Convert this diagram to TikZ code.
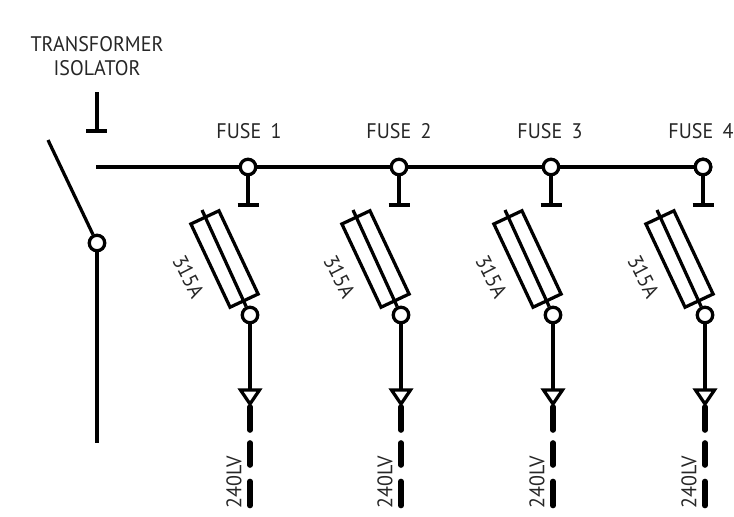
\documentclass[tikz,border=0pt]{standalone}
\usepackage{fontspec}
\setmainfont{PT Sans}[FakeStretch=0.95]
\usepackage{tikz}

\tikzset{
  wire/.style={line width=1.85pt},
  fat/.style={line width=3.2pt,line cap=round},
  joint/.style={circle,draw,line width=1.85pt,fill=white,inner sep=0pt,minimum size=0.31cm},
  fusebody/.style={draw,line width=1.85pt,inner sep=0pt,minimum width=1.84cm,minimum height=0.62cm,rotate=-64.8},
  lbl/.style={font=\fontsize{12}{14}\selectfont,text=black!85,inner sep=0pt}
}

\begin{document}
\begin{tikzpicture}
  \useasboundingbox (0,0) rectangle (14.68,10.32);
  % Isolator
  \node[lbl] (trlabel) at (1.94,9.44) {TRANSFORMER};
  \node[lbl] (isolabel) at (1.94,8.96) {ISOLATOR};
  \coordinate (isotop) at (1.94,8.48);
  \coordinate (isofoot) at (1.94,7.70);
  \draw[wire] (isotop) -- (isofoot);
  \draw[wire] (1.73,7.70) -- (2.15,7.70);
  \node[joint] (pivot) at (1.94,5.46) {};
  \coordinate (blade) at (0.96,7.52);
  \coordinate (isoend) at (1.94,1.46);
  \draw[wire] (blade) -- (pivot);
  \draw[wire] (pivot) -- (isoend);
  % Bus
  \coordinate (busstart) at (1.92,6.98);
  \node[joint] (bus4) at (14.06,6.98) {};
  \draw[wire] (busstart) -- (bus4);
  % Fuse ways
  \foreach \n/\x/\l in {1/4.96/4.98,2/7.98/7.98,3/11.02/11.00,4/14.06/14.02}{
    \node[joint] (bus\n) at (\x,6.98) {};
    \node[lbl] (name\n) at (\l,7.70) {FUSE\hspace{0.08cm} \n};
    \coordinate (foot\n) at (\x,6.22);
    \draw[wire] (bus\n) -- (foot\n);
    \draw[wire] ([xshift=-0.21cm]foot\n) -- ([xshift=0.21cm]foot\n);
    \node[fusebody] (fuse\n) at (\x-0.47,5.14) {};
    \node[joint] (out\n) at (\x+0.04,4.02) {};
    \coordinate (lead\n) at (\x-0.92,6.12);
    \draw[wire] (lead\n) -- (out\n);
    \node[lbl,rotate=-63] (amp\n) at (\x-1.19,4.79) {315A};
    \coordinate (tip\n) at (\x+0.04,2.24);
    \draw[wire] (out\n) -- ([yshift=0.28cm]tip\n);
    \draw[wire,line join=miter] ([shift={(-0.19,0.28)}]tip\n) -- ([shift={(0.19,0.28)}]tip\n) -- (tip\n) -- cycle;
    \draw[fat] ([yshift=-0.06cm]tip\n) -- ++(0,-0.46);
    \draw[fat] ([yshift=-0.78cm]tip\n) -- ++(0,-0.44);
    \draw[fat] ([yshift=-1.55cm]tip\n) -- ++(0,-0.48);
    \node[lbl,rotate=90] (volt\n) at (\x-0.28,0.68) {240LV};
  }
\end{tikzpicture}
\end{document}
